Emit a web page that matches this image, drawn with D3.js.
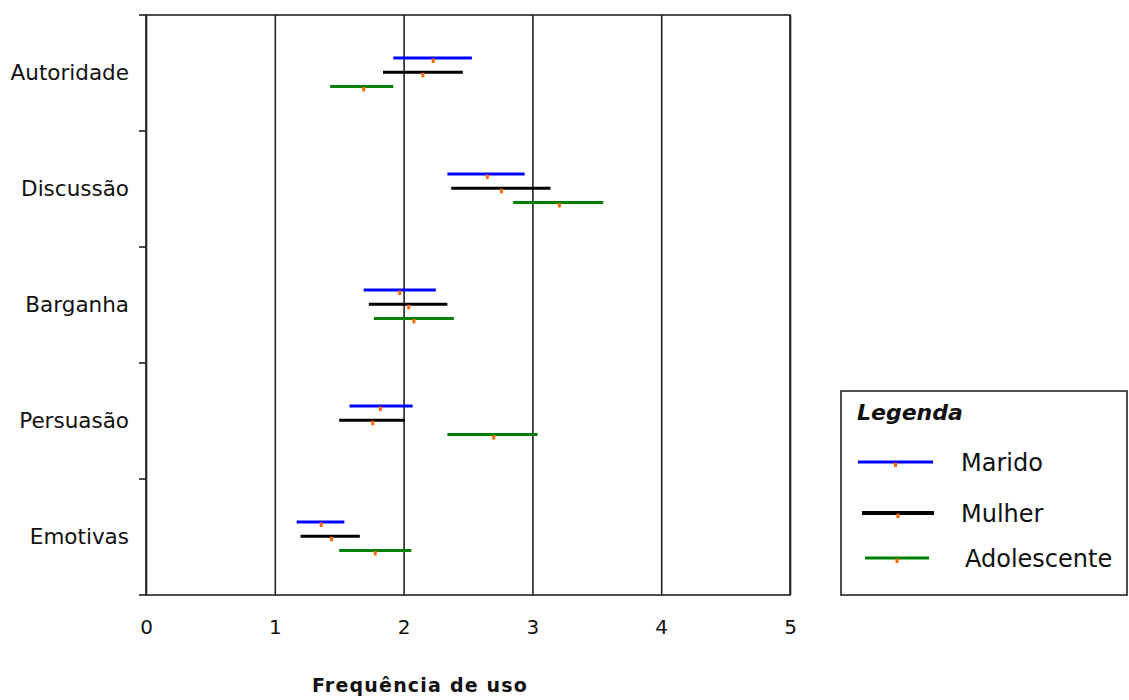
<!DOCTYPE html>
<html>
<head>
<meta charset="utf-8">
<script src="https://cdn.jsdelivr.net/npm/d3@7"></script>
<style>
  body { margin: 0; background: #fff; }
  svg { display: block; }
  text { font-family: "DejaVu Sans", sans-serif; fill: #111; }
</style>
</head>
<body>
<svg id="chart" width="1129" height="700"></svg>
<script>
// data
const categories = ['Autoridade', 'Discussão', 'Barganha', 'Persuasão', 'Emotivas'];
const seriesNames = ['Marido', 'Mulher', 'Adolescente'];
const seriesColors = ['#0000ff', '#000000', '#008000'];
const xTicks = [0, 1, 2, 3, 4, 5];

const maridoMin = [1.92, 2.34, 1.69, 1.58, 1.17];
const maridoMax = [2.53, 2.94, 2.25, 2.07, 1.54];
const maridoMean = [2.23, 2.65, 1.97, 1.82, 1.36];

const mulherMin = [1.84, 2.37, 1.73, 1.50, 1.20];
const mulherMax = [2.46, 3.14, 2.34, 2.01, 1.66];
const mulherMean = [2.15, 2.76, 2.04, 1.76, 1.44];

const adolMin = [1.43, 2.85, 1.77, 2.34, 1.50];
const adolMax = [1.92, 3.55, 2.39, 3.04, 2.06];
const adolMean = [1.69, 3.21, 2.08, 2.70, 1.78];

const mins = [maridoMin, mulherMin, adolMin];
const maxs = [maridoMax, mulherMax, adolMax];
const means = [maridoMean, mulherMean, adolMean];

const rows = [];
seriesNames.forEach((s, si) => {
  categories.forEach((c, ci) => {
    rows.push({ series: s, cat: c, lo: mins[si][ci], hi: maxs[si][ci], mean: means[si][ci] });
  });
});

const svg = d3.select('#chart');
const margin = { top: 15, left: 146, right: 339, bottom: 105 };
const width = 1129 - margin.left - margin.right;
const height = 700 - margin.top - margin.bottom;
const g = svg.append('g').attr('transform', `translate(${margin.left},${margin.top})`);

const x = d3.scaleLinear().domain([0, 5]).range([0, width]);
const y = d3.scaleBand().domain(categories).range([0, height]);
const sub = d3.scalePoint().domain(seriesNames).range([-15, 13.5]);
const color = d3.scaleOrdinal().domain(seriesNames).range(seriesColors);

// x axis with full-height grid lines
g.append('g')
  .attr('class', 'x-axis')
  .attr('transform', `translate(0,${height})`)
  .call(d3.axisBottom(x).tickValues(xTicks).tickSize(-height).tickPadding(25).tickFormat(d3.format('d')))
  .call(a => a.select('.domain').remove())
  .call(a => a.selectAll('line').attr('stroke', '#222').attr('stroke-width', 1.6))
  .call(a => a.selectAll('text').attr('font-size', 20).attr('font-family', '"DejaVu Sans", sans-serif').attr('fill', '#111'));

// frame
g.append('rect')
  .attr('x', 0).attr('y', 0).attr('width', width).attr('height', height)
  .attr('fill', 'none').attr('stroke', '#222').attr('stroke-width', 1.6);

// y ticks at band edges
const edges = categories.map(c => y(c)).concat([height]);
g.append('g').selectAll('line')
  .data(edges)
  .enter().append('line')
  .attr('x1', -7).attr('x2', 0)
  .attr('y1', d => d).attr('y2', d => d)
  .attr('stroke', '#222').attr('stroke-width', 1.6);

// category labels
g.append('g')
  .attr('class', 'y-axis')
  .call(d3.axisLeft(y).tickSize(0).tickPadding(17))
  .call(a => a.select('.domain').remove())
  .call(a => a.selectAll('text').attr('font-size', 21.5).attr('font-family', '"DejaVu Sans", sans-serif').attr('fill', '#111'));

// range lines
const yc = d => y(d.cat) + y.bandwidth() / 2 + sub(d.series);
const marks = g.append('g').attr('class', 'ranges');
marks.selectAll('.range')
  .data(rows)
  .enter().append('line')
  .attr('class', 'range')
  .attr('x1', d => x(d.lo)).attr('x2', d => x(d.hi))
  .attr('y1', yc).attr('y2', yc)
  .attr('stroke', d => color(d.series))
  .attr('stroke-width', 3);

marks.selectAll('.dot')
  .data(rows)
  .enter().append('rect')
  .attr('class', 'dot')
  .attr('x', d => x(d.mean) - 1.5)
  .attr('y', d => yc(d) + 0.5)
  .attr('width', 3).attr('height', 4.5)
  .attr('fill', '#ff6a00');

// x axis title
svg.append('text')
  .attr('x', 420).attr('y', 692)
  .attr('text-anchor', 'middle')
  .attr('font-size', 19).attr('font-weight', 'bold')
  .attr('letter-spacing', 1.2)
  .text('Frequência de uso');

// legend
const legend = svg.append('g').attr('transform', 'translate(841,391)');
legend.append('rect')
  .attr('width', 286).attr('height', 204)
  .attr('fill', '#fff').attr('stroke', '#222').attr('stroke-width', 1.6);
legend.append('text')
  .attr('x', 16).attr('y', 29)
  .attr('font-size', 22).attr('font-weight', 'bold').attr('font-style', 'italic')
  .text('Legenda');

const legY = [71, 122, 167];
const legX1 = [17, 21, 24];
const legX2 = [92, 93, 88];
const legTx = [120, 120, 124];
const item = legend.selectAll('.item')
  .data(seriesNames)
  .enter().append('g')
  .attr('class', 'item');
item.append('line')
  .attr('x1', (d, i) => legX1[i]).attr('x2', (d, i) => legX2[i])
  .attr('y1', (d, i) => legY[i]).attr('y2', (d, i) => legY[i])
  .attr('stroke', d => color(d))
  .attr('stroke-width', (d, i) => i === 1 ? 4 : 3);
item.append('rect')
  .attr('x', (d, i) => (legX1[i] + legX2[i]) / 2 - 1.5)
  .attr('y', (d, i) => legY[i] + 0.5)
  .attr('width', 3).attr('height', 4.5)
  .attr('fill', '#ff6a00');
item.append('text')
  .attr('x', (d, i) => legTx[i])
  .attr('y', (d, i) => legY[i] + 9)
  .attr('font-size', 24)
  .text(d => d);
</script>
</body>
</html>
